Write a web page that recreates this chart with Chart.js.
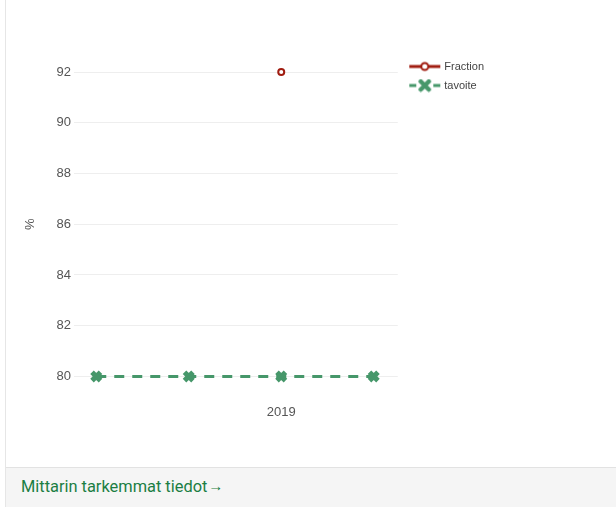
<!DOCTYPE html>
<html>
<head>
<meta charset="utf-8">
<script src="https://cdn.jsdelivr.net/npm/chart.js@4/dist/chart.umd.min.js"></script>
<style>
  html, body { margin: 0; padding: 0; background: #fff; width: 616px; height: 507px; overflow: hidden; }
  .card { position: absolute; left: 5px; top: 0; width: 700px; height: 507px; border-left: 1px solid #e6e6e6; }
  .chartbox { position: absolute; left: 6px; top: 0; width: 610px; height: 460px; }
  .footer { position: absolute; left: 6px; top: 467px; width: 610px; height: 40px; background: #f5f5f5; border-top: 1px solid #e2e2e2; box-sizing: border-box; }
  .footer a { position: absolute; left: 15px; top: 9px; font-family: Roboto, "Noto Sans", sans-serif; font-size: 16.4px; color: #1b7e43; text-decoration: none; white-space: nowrap; }
  .footer a span { font-size: 15px; margin-left: 1px; position: relative; top: -1px; }
</style>
</head>
<body>
<div class="card"></div>
<div class="chartbox"><canvas id="c"></canvas></div>
<div class="footer"><a href="#">Mittarin tarkemmat tiedot<span>→</span></a></div>
<script>
// ---- data ----
const xPositions = [0, 1, 2, 3];
const xTickLabels = ['', '', '2019', ''];
const fractionValues = [null, null, 92, null];
const tavoiteValues = [80, 80, 80, 80];
const seriesNames = ['Fraction', 'tavoite'];
const yTicks = [80, 82, 84, 86, 88, 90, 92];

const RED = '#a01c10';
const GREEN = '#46976a';
const FONT = '"Liberation Sans", Arial, sans-serif';

function legendIcon(kind) {
  const c = document.createElement('canvas');
  c.width = 40; c.height = 14;
  const g = c.getContext('2d');
  const x0 = 7, x1 = 38, cx = (x0 + x1) / 2;
  if (kind === 0) {
    g.strokeStyle = RED; g.lineWidth = 3;
    g.beginPath(); g.moveTo(x0, 7); g.lineTo(x1, 7); g.stroke();
    g.fillStyle = '#fff'; g.lineWidth = 2;
    g.beginPath(); g.arc(cx, 7, 3.5, 0, Math.PI * 2); g.fill(); g.stroke();
  } else {
    g.strokeStyle = GREEN; g.lineWidth = 3;
    g.beginPath(); g.moveTo(x0, 7); g.lineTo(x0 + 7, 7); g.moveTo(x1 - 7, 7); g.lineTo(x1, 7); g.stroke();
    g.lineWidth = 4.5; g.lineCap = 'round';
    g.beginPath(); g.moveTo(cx - 4, 3); g.lineTo(cx + 4, 11); g.moveTo(cx + 4, 3); g.lineTo(cx - 4, 11); g.stroke();
  }
  return c;
}

const toPts = vals => xPositions.map((x, i) => ({ x: x, y: vals[i] }));

new Chart(document.getElementById('c'), {
  type: 'line',
  data: {
    datasets: [
      {
        label: seriesNames[0],
        data: toPts(fractionValues),
        borderColor: RED,
        backgroundColor: '#fff',
        borderWidth: 3,
        pointRadius: 3,
        pointBorderWidth: 2,
        pointBackgroundColor: '#fff',
        pointBorderColor: RED,
        clip: false,
        spanGaps: false
      },
      {
        label: seriesNames[1],
        data: toPts(tavoiteValues),
        borderColor: GREEN,
        backgroundColor: GREEN,
        borderWidth: 3,
        borderDash: [10, 8],
        pointStyle: 'crossRot',
        pointRadius: 6,
        pointBorderWidth: 5,
        pointBorderColor: GREEN,
        pointBackgroundColor: GREEN,
        clip: false
      }
    ]
  },
  options: {
    responsive: true,
    maintainAspectRatio: false,
    animation: false,
    layout: { padding: { top: 53, right: 122, bottom: 12, left: 0 } },
    plugins: {
      tooltip: { enabled: false },
      title: { display: true, text: '', fullSize: false, font: { size: 1, lineHeight: 1 }, padding: { top: 0, bottom: 18 } },
      legend: {
        position: 'right',
        align: 'start',
        labels: {
          usePointStyle: true,
          pointStyleWidth: 33,
          padding: 8,
          color: '#444',
          font: { family: FONT, size: 11 },
          generateLabels: chart => chart.data.datasets.map((ds, i) => ({
            text: ds.label,
            pointStyle: legendIcon(i),
            fillStyle: ds.borderColor,
            strokeStyle: ds.borderColor,
            lineWidth: 0,
            hidden: false,
            datasetIndex: i,
            fontColor: '#444'
          }))
        }
      }
    },
    scales: {
      x: {
        type: 'linear',
        min: -0.24,
        max: 3.26,
        grid: { display: false, drawTicks: false },
        border: { display: false },
        afterBuildTicks: axis => { axis.ticks = xPositions.map(v => ({ value: v })); },
        ticks: {
          padding: 28,
          color: '#555',
          font: { family: FONT, size: 13 },
          autoSkip: false,
          maxRotation: 0,
          callback: v => xTickLabels[v] ?? ''
        }
      },
      y: {
        min: 80,
        max: 92,
        afterBuildTicks: axis => { axis.ticks = yTicks.map(v => ({ value: v })); },
        grid: { color: '#eeeeee', drawTicks: false, lineWidth: 1 },
        border: { display: false },
        ticks: { padding: 3, color: '#555', font: { family: FONT, size: 13 } },
        title: { display: true, text: '%', color: '#555', font: { family: FONT, size: 13 }, padding: { top: 17, bottom: 15 } }
      }
    }
  }
});
</script>
</body>
</html>
